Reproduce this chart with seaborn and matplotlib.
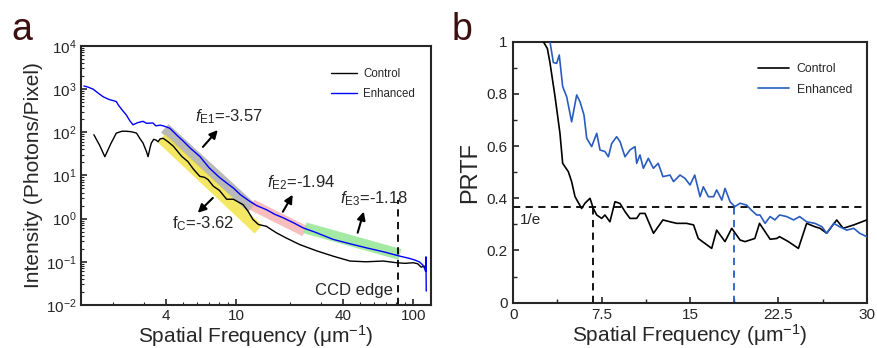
import numpy as np
import pandas as pd
import matplotlib
matplotlib.use("Agg")
import matplotlib.pyplot as plt
from matplotlib.ticker import FixedLocator, NullFormatter, LogLocator, MultipleLocator
import seaborn as sns

# ---- panel a: intensity spectrum (log-log) ----
ctrl_freq = [1.56, 1.68, 1.8, 1.95, 2.09, 2.25, 2.38, 2.55, 2.72, 2.85, 2.96, 3.1, 3.16,
             3.25, 3.3, 3.4, 3.5, 3.6, 3.7, 3.85, 4.1, 4.4, 4.9, 5.3, 5.7, 6.2, 6.6, 6.9,
             7.4, 8.0, 8.8, 9.6, 10.9, 11.6, 12.4, 13.3, 14.8, 15.5, 16.8, 19.0, 22.8,
             28.3, 35.2, 43.9, 54.0, 67.7, 80.5, 90.0, 100.0, 106.0, 111.0, 115.0, 118.0]
ctrl_int = [87, 50, 27, 55, 95, 105, 105, 102, 95, 70, 56, 35, 27,
            45, 56, 68, 66, 60, 70, 72, 60, 47, 27.5, 21, 14, 9.5, 9, 8,
            5.6, 4.5, 2.8, 2.8, 2.1, 1.5, 0.95, 0.73, 0.66, 0.58, 0.47, 0.36, 0.25,
            0.18, 0.135, 0.104, 0.1, 0.104, 0.095, 0.092, 0.095, 0.09, 0.075, 0.08, 0.07]

enh_freq = [1.37, 1.45, 1.55, 1.65, 1.76, 1.9, 2.0, 2.09, 2.15, 2.25, 2.38, 2.5, 2.6,
            2.75, 2.96, 3.1, 3.37, 3.5, 3.7, 3.85, 4.2, 4.6, 5.0, 5.5, 6.2, 7.0, 8.0,
            9.0, 9.6, 10.5, 11.9, 13.0, 14.8, 16.5, 18.4, 21.0, 23.8, 28.0, 35.2, 44.0,
            54.4, 68.0, 84.0, 95.0, 102.0, 108.0, 113.0, 116.0, 117.5, 118.0, 118.5]
enh_int = [1170, 1100, 980, 800, 660, 570, 540, 510, 420, 330, 250, 180, 148,
           165, 178, 160, 163, 140, 145, 140, 123, 85, 62, 42, 27.5, 15, 9,
           6.2, 5.1, 3.6, 2.5, 2.0, 1.6, 1.25, 1.04, 0.8, 0.61, 0.48, 0.33, 0.26,
           0.21, 0.17, 0.135, 0.12, 0.11, 0.1, 0.085, 0.07, 0.06, 0.13, 0.021]

# fitted power-law segments (start/end frequency and intensity)
fit_e1 = ([3.93, 12.2], [123, 1.76])
fit_c = ([3.77, 13.3], [72, 0.56])
fit_e2 = ([12.2, 24.4], [2.1, 0.51])
fit_e3 = ([24.4, 84.0], [0.61, 0.148])
ccd_edge = 82.0

# ---- panel b: PRTF ----
prtf_ctrl_x = [2.55, 2.89, 3.11, 3.54, 3.96, 4.19, 4.67, 4.95, 5.24, 5.8, 6.08, 6.51,
               6.79, 7.08, 7.5, 7.78, 8.2, 8.63, 9.06, 9.48, 9.9, 10.47, 10.75, 11.18,
               11.9, 12.7, 13.3, 13.87, 14.7, 15.3, 15.7, 16.84, 17.26, 17.97, 18.54,
               19.25, 19.67, 20.5, 20.9, 21.8, 22.36, 22.6, 23.35, 24.2, 24.9, 25.6,
               26.04, 26.6, 27.45, 28.0, 28.9, 29.6, 30.0]
prtf_ctrl_y = [1.0, 0.974, 0.92, 0.79, 0.649, 0.534, 0.502, 0.464, 0.406, 0.361, 0.381,
               0.4, 0.361, 0.336, 0.323, 0.336, 0.31, 0.387, 0.38, 0.349, 0.323, 0.323,
               0.342, 0.342, 0.266, 0.317, 0.31, 0.304, 0.304, 0.298, 0.246, 0.208,
               0.278, 0.234, 0.285, 0.24, 0.234, 0.246, 0.304, 0.243, 0.246, 0.253,
               0.234, 0.208, 0.304, 0.291, 0.285, 0.266, 0.317, 0.285, 0.298, 0.31, 0.317]

prtf_enh_x = [3.11, 3.4, 3.68, 3.9, 4.19, 4.53, 4.95, 5.38, 5.66, 6.0, 6.23, 6.65, 7.08,
              7.36, 7.78, 8.07, 8.35, 8.77, 9.06, 9.48, 9.9, 10.33, 10.47, 10.75, 11.04,
              11.46, 11.89, 12.3, 12.7, 13.3, 13.6, 14.15, 14.58, 15.0, 15.4, 15.85,
              16.13, 16.56, 17.0, 17.26, 17.7, 17.97, 18.4, 18.8, 19.25, 19.8, 20.2,
              20.66, 20.94, 21.37, 21.8, 22.2, 22.6, 23.2, 23.8, 24.3, 24.9, 25.6, 26.2,
              26.6, 27.2, 27.7, 28.3, 28.9, 29.4, 30.0]
prtf_enh_y = [1.0, 0.92, 0.917, 0.949, 0.828, 0.789, 0.693, 0.796, 0.77, 0.719, 0.63,
              0.598, 0.649, 0.585, 0.579, 0.559, 0.61, 0.636, 0.617, 0.559, 0.585, 0.598,
              0.534, 0.566, 0.515, 0.553, 0.515, 0.534, 0.483, 0.489, 0.464, 0.489,
              0.476, 0.451, 0.489, 0.406, 0.444, 0.406, 0.406, 0.432, 0.393, 0.438,
              0.387, 0.368, 0.381, 0.374, 0.355, 0.336, 0.336, 0.304, 0.33, 0.317,
              0.336, 0.33, 0.317, 0.33, 0.31, 0.304, 0.291, 0.266, 0.304, 0.291, 0.278,
              0.285, 0.266, 0.253]
ctrl_cut = 6.8
enh_cut = 18.7

# ---- style ----
sns.set_style("ticks")
plt.rcParams["font.family"] = ["Liberation Sans", "DejaVu Sans"]
plt.rcParams["mathtext.fontset"] = "custom"
plt.rcParams["mathtext.rm"] = "Liberation Sans"
plt.rcParams["mathtext.it"] = "Liberation Sans:italic"
plt.rcParams["axes.linewidth"] = 1.5
plt.rcParams["xtick.direction"] = "in"
plt.rcParams["ytick.direction"] = "in"

fig = plt.figure(figsize=(8.77, 3.48), dpi=100)
ax_a = fig.add_axes([0.0924, 0.1236, 0.399, 0.745])
ax_b = fig.add_axes([0.5853, 0.1302, 0.403, 0.750])

# panel a
df_ctrl = pd.DataFrame({"f": ctrl_freq, "I": ctrl_int})
df_enh = pd.DataFrame({"f": enh_freq, "I": enh_int})
band_kw = dict(lw=8, alpha=0.75, solid_capstyle="butt", zorder=1, legend=False)
for (fx, fy), col in [(fit_e1, "#a2a2a2"), (fit_c, "#f0e030"), (fit_e2, "#f6a8a8"), (fit_e3, "#86e486")]:
    sns.lineplot(x=fx, y=fy, ax=ax_a, color=col, **band_kw)
sns.lineplot(data=df_ctrl, x="f", y="I", ax=ax_a, color="black", lw=1.0,
             sort=False, estimator=None, label="Control", zorder=3)
sns.lineplot(data=df_enh, x="f", y="I", ax=ax_a, color="#0000ff", lw=1.0,
             sort=False, estimator=None, label="Enhanced", zorder=3)
ax_a.set_xscale("log")
ax_a.set_yscale("log")
ax_a.set_xlim(1.32, 126)
ax_a.set_ylim(1e-2, 1e4)
ax_a.vlines(ccd_edge, 1e-2, 2.7, colors="black", linestyles=(0, (4, 3)), lw=1.3)
ax_a.xaxis.set_major_locator(FixedLocator([4, 10, 40, 100]))
ax_a.set_xticklabels(["4", "10", "40", "100"])
ax_a.xaxis.set_minor_locator(LogLocator(base=10, subs=np.arange(2, 10)))
ax_a.xaxis.set_minor_formatter(NullFormatter())
ax_a.yaxis.set_major_locator(FixedLocator([1e-2, 1e-1, 1, 10, 100, 1e3, 1e4]))
ax_a.set_yticklabels([r"10$^{-2}$", r"10$^{-1}$", r"10$^{0}$", r"10$^{1}$",
                      r"10$^{2}$", r"10$^{3}$", r"10$^{4}$"])
ax_a.yaxis.set_minor_locator(LogLocator(base=10, subs=np.arange(2, 10), numticks=20))
ax_a.yaxis.set_minor_formatter(NullFormatter())
ax_a.tick_params(which="major", length=4, width=1.2, labelsize=11, pad=3)
ax_a.tick_params(which="minor", length=2, width=0.8)
ax_a.set_xlabel("Spatial Frequency (μm$^{-1}$)", fontsize=15, labelpad=0)
ax_a.set_ylabel("Intensity (Photons/Pixel)", fontsize=15, labelpad=2)

arrow = dict(arrowstyle="-|>", color="black", lw=1.5, mutation_scale=12, shrinkA=0, shrinkB=0)
ax_a.text(5.8, 225, r"$\mathit{f}_{\mathrm{E1}}$=-3.57", fontsize=12, va="center")
ax_a.annotate("", xy=(7.84, 112), xytext=(6.46, 45.5), arrowprops=arrow)
ax_a.text(14.85, 6.76, r"$\mathit{f}_{\mathrm{E2}}$=-1.94", fontsize=12, va="center")
ax_a.annotate("", xy=(20.8, 3.55), xytext=(18.3, 1.44), arrowprops=arrow)
ax_a.text(38.4, 2.88, r"$\mathit{f}_{\mathrm{E3}}$=-1.18", fontsize=12, va="center")
ax_a.annotate("", xy=(52.5, 1.45), xytext=(48.5, 0.47), arrowprops=arrow)
ax_a.text(4.3, 0.76, r"f$_{\mathrm{C}}$=-3.62", fontsize=12, va="center")
ax_a.annotate("", xy=(6.04, 1.36), xytext=(7.35, 3.0), arrowprops=arrow)
ax_a.text(77, 0.0216, "CCD edge", fontsize=12, ha="right", va="center")
ax_a.legend(loc="upper right", bbox_to_anchor=(0.985, 0.955), frameon=False, fontsize=8.3,
            handlelength=2.2, handletextpad=0.6, labelspacing=0.7)

# panel b
df_pc = pd.DataFrame({"x": prtf_ctrl_x, "y": prtf_ctrl_y})
df_pe = pd.DataFrame({"x": prtf_enh_x, "y": prtf_enh_y})
sns.lineplot(data=df_pc, x="x", y="y", ax=ax_b, color="black", lw=1.2,
             sort=False, estimator=None, label="Control", zorder=3)
sns.lineplot(data=df_pe, x="x", y="y", ax=ax_b, color="#2a5cbf", lw=1.2,
             sort=False, estimator=None, label="Enhanced", zorder=3)
inv_e = 1 / np.e
ax_b.axhline(inv_e, color="black", ls=(0, (4, 3)), lw=1.3, zorder=2)
ax_b.vlines(ctrl_cut, 0, inv_e, colors="black", linestyles=(0, (4, 3)), lw=1.3)
ax_b.vlines(enh_cut, 0, inv_e, colors="#2a5cbf", linestyles=(0, (4, 3)), lw=1.3)
ax_b.text(0.57, 0.317, "1/e", fontsize=11, va="center")
ax_b.set_xlim(0, 30)
ax_b.set_ylim(0, 1)
ax_b.xaxis.set_major_locator(MultipleLocator(7.5))
ax_b.xaxis.set_minor_locator(MultipleLocator(3.75))
ax_b.yaxis.set_major_locator(MultipleLocator(0.2))
ax_b.yaxis.set_minor_locator(MultipleLocator(0.1))
ax_b.xaxis.set_major_formatter(plt.FuncFormatter(lambda v, p: f"{v:g}"))
ax_b.yaxis.set_major_formatter(plt.FuncFormatter(lambda v, p: f"{v:g}"))
ax_b.tick_params(which="major", length=4, width=1.2, labelsize=11, pad=4)
ax_b.tick_params(which="minor", length=3, width=1.0)
ax_b.set_xlabel("Spatial Frequency (μm$^{-1}$)", fontsize=15, labelpad=0)
ax_b.set_ylabel("PRTF", fontsize=17, labelpad=4)
ax_b.legend(loc="upper right", bbox_to_anchor=(0.99, 0.96), frameon=False, fontsize=8.8,
            handlelength=2.6, handletextpad=0.6, labelspacing=0.7)

fig.text(0.013, 0.885, "a", fontsize=27, color="#3c1010", va="baseline")
fig.text(0.515, 0.885, "b", fontsize=27, color="#3c1010", va="baseline")

fig.savefig("out.png", dpi=100)
